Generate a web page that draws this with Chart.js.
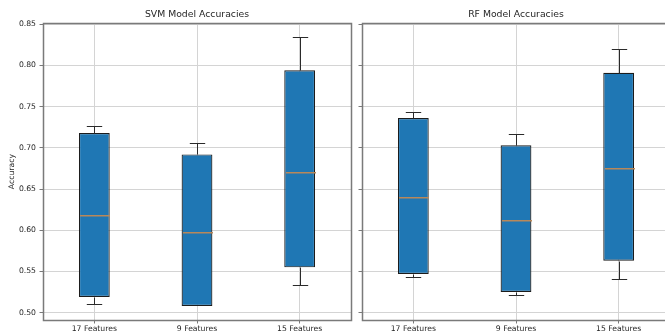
<!DOCTYPE html>
<html>
<head>
<meta charset="utf-8">
<script src="https://cdn.jsdelivr.net/npm/chart.js@4"></script>
<style>
  html, body { margin: 0; padding: 0; background: #fff; overflow: hidden; }
  body { width: 665px; height: 335px; position: relative; }
  canvas { position: absolute; top: 0; }
  #svmChart { left: 0; }
  #rfChart { left: 356px; }
</style>
</head>
<body>
<canvas id="svmChart" width="356" height="335"></canvas>
<canvas id="rfChart" width="320" height="335"></canvas>
<script>
const categories = ['17 Features', '9 Features', '15 Features'];
const yTicks = [0.50, 0.55, 0.60, 0.65, 0.70, 0.75, 0.80, 0.85];

// box stats
const svmMin = [0.510, 0.508, 0.533];
const svmQ1 = [0.519, 0.508, 0.555];
const svmMedian = [0.619, 0.598, 0.671];
const svmQ3 = [0.718, 0.692, 0.794];
const svmMax = [0.726, 0.706, 0.835];

const rfMin = [0.543, 0.521, 0.541];
const rfQ1 = [0.547, 0.525, 0.563];
const rfMedian = [0.640, 0.612, 0.675];
const rfQ3 = [0.736, 0.703, 0.791];
const rfMax = [0.744, 0.717, 0.820];

const frameColor = '#7a7a7a';
const gridColor = '#d4d4d4';
const textColor = '#262626';

// whiskers, caps and median lines, drawn from the scales
const boxExtras = {
    id: 'boxExtras',
    afterDatasetsDraw(chart) {
        let stats = chart.options.plugins.boxExtras;
        let ctx = chart.ctx;
        let x = chart.scales.x, y = chart.scales.y;
        let meta = chart.getDatasetMeta(0);
        ctx.save();
        for (let i = 0; i < categories.length; i++) {
            let cx = Math.round(x.getPixelForValue(i)) + 0.5;
            let w = meta.data[i].width;
            let capHalf = w / 4;
            let py = v => Math.round(y.getPixelForValue(v)) + 0.5;
            ctx.strokeStyle = '#2a2a2a';
            ctx.lineWidth = 1;
            ctx.beginPath();
            ctx.moveTo(cx, py(stats.q3[i]));
            ctx.lineTo(cx, py(stats.max[i]));
            ctx.moveTo(cx - capHalf, py(stats.max[i]));
            ctx.lineTo(cx + capHalf, py(stats.max[i]));
            if (stats.min[i] < stats.q1[i]) {
                ctx.moveTo(cx, py(stats.q1[i]));
                ctx.lineTo(cx, py(stats.min[i]));
                ctx.moveTo(cx - capHalf, py(stats.min[i]));
                ctx.lineTo(cx + capHalf, py(stats.min[i]));
            }
            ctx.stroke();
            // median
            ctx.fillStyle = '#b8885a';
            ctx.fillRect(Math.round(cx - w / 2) + 1, py(stats.median[i]) - 0.5, Math.round(w) - 1, 1.5);
        }
        ctx.restore();
    },
    afterDraw(chart) {
        let a = chart.chartArea;
        let ctx = chart.ctx;
        ctx.save();
        ctx.strokeStyle = frameColor;
        ctx.lineWidth = 1.5;
        ctx.strokeRect(Math.round(a.left) + 0.5, Math.round(a.top) + 0.5,
            Math.round(a.right - a.left), Math.round(a.bottom - a.top));
        ctx.restore();
    }
};

function makeChart(id, title, q1, q3, min, median, max, yAxisWidth, padRight, showLabels) {
    let ctx = document.getElementById(id).getContext('2d');
    return new Chart(ctx, {
        type: 'bar',
        data: {
            labels: categories,
            datasets: [{
                data: q1.map((v, i) => [v, q3[i]]),
                backgroundColor: '#1f77b4',
                borderColor: '#1c1c1c',
                borderWidth: 1.2,
                borderSkipped: false,
                barPercentage: 0.3,
                categoryPercentage: 1
            }]
        },
        options: {
            responsive: false,
            animation: false,
            devicePixelRatio: 1,
            layout: { padding: { left: 0, right: padRight, top: 0, bottom: 0 } },
            scales: {
                x: {
                    offset: true,
                    grid: { offset: false, color: gridColor, tickColor: frameColor, tickLength: 3.5 },
                    border: { color: frameColor },
                    ticks: { color: textColor, font: { family: 'DejaVu Sans', size: 7.7 }, padding: 1, maxRotation: 0 },
                    afterFit(s) { s.height = 15; }
                },
                y: {
                    min: 0.4911,
                    max: 0.8512,
                    afterBuildTicks(s) { s.ticks = yTicks.map(v => ({ value: v })); },
                    grid: { color: gridColor, tickColor: frameColor, tickLength: 3.5 },
                    border: { color: frameColor },
                    ticks: {
                        display: showLabels,
                        color: textColor,
                        font: { family: 'DejaVu Sans', size: 7.7 },
                        padding: 3.5,
                        callback: v => v.toFixed(2)
                    },
                    title: {
                        display: showLabels,
                        text: 'Accuracy',
                        color: textColor,
                        font: { family: 'DejaVu Sans', size: 7.7 },
                        padding: { top: 7, bottom: 0 }
                    },
                    afterFit(s) { s.width = yAxisWidth; }
                }
            },
            plugins: {
                legend: { display: false },
                tooltip: { enabled: false },
                title: {
                    display: true,
                    text: title,
                    fullSize: false,
                    color: textColor,
                    font: { family: 'DejaVu Sans', size: 9.3, weight: 'normal' },
                    padding: { top: 9, bottom: 3 }
                },
                boxExtras: { q1: q1, q3: q3, min: min, median: median, max: max }
            }
        },
        plugins: [boxExtras]
    });
}

makeChart('svmChart', 'SVM Model Accuracies', svmQ1, svmQ3, svmMin, svmMedian, svmMax, 43, 5, true);
makeChart('rfChart', 'RF Model Accuracies', rfQ1, rfQ3, rfMin, rfMedian, rfMax, 6, 6, false);
</script>
</body>
</html>
